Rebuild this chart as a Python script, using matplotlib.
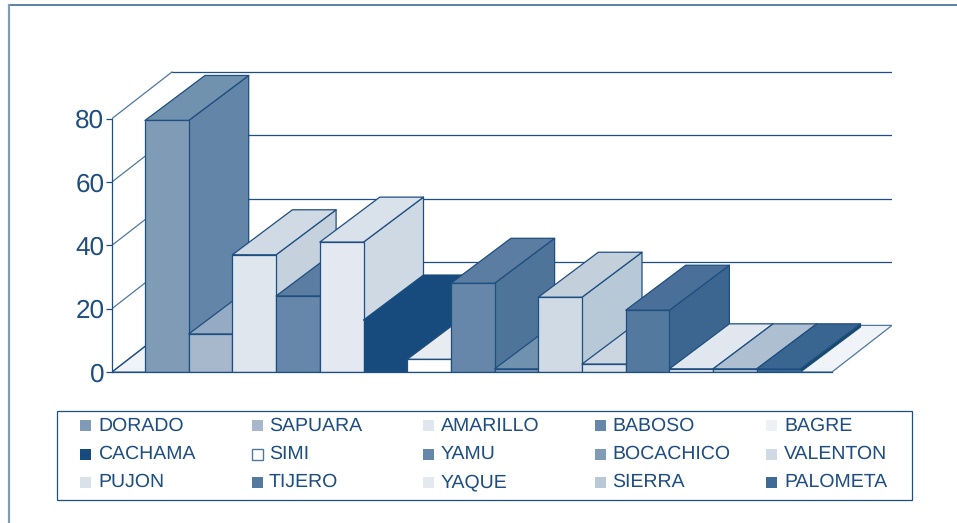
import matplotlib
matplotlib.use("Agg")
import matplotlib.pyplot as plt
from matplotlib.patches import Polygon, Rectangle

plt.rcParams['font.family'] = ['Liberation Sans', 'DejaVu Sans']
plt.rcParams['text.hinting'] = 'no_hinting'

species = ["DORADO", "SAPUARA", "AMARILLO", "BABOSO", "BAGRE",
           "CACHAMA", "SIMI", "YAMU", "BOCACHICO", "VALENTON",
           "PUJON", "TIJERO", "YAQUE", "SIERRA", "PALOMETA"]
values = [79.4, 12, 37, 24, 41, 16.4, 4, 28, 1, 23.6, 2.5, 19.5, 1, 1, 1]
y_ticks = [0, 20, 40, 60, 80]

front_colors = ["#7F9BB6", "#A7B8CD", "#E0E6EE", "#6687A9", "#E4E9F1",
                "#174B7E", "#FFFFFF", "#6687A9", "#7F9BB6", "#D0DAE5",
                "#D9E1EA", "#54799E", "#E8EDF3", "#B8C8D7", "#3F6A95"]
top_colors = ["#7092AF", "#95ABC3", "#D0DAE5", "#5A7DA1", "#D9E1EA",
              "#174B7E", "#E8ECF1", "#5A7DA1", "#7092AF", "#C3D0DC",
              "#CBD6E1", "#4A7099", "#E0E7EF", "#AEBFD1", "#396591"]
side_colors = ["#6285A8", "#8AA2BC", "#C5D1DD", "#4F7499", "#CED9E3",
               "#174B7E", "#DDE3EA", "#4F7499", "#6285A8", "#B7C8D7",
               "#BFCCD9", "#3C668F", "#D5DEE8", "#A3B6CA", "#0F4A5E"]
legend_colors = ["#7F9BB6", "#A7B8CD", "#E0E6EE", "#6687A9", "#EDF1F5",
                 "#174B7E", "#FFFFFF", "#6687A9", "#7F9BB6", "#D0DAE5",
                 "#D9E1EA", "#54799E", "#E3E9F1", "#B8C8D7", "#3F6A95"]

W, H = 957, 523
INK = "#1F4E80"
MID = "#4F78A0"
FLOOR = "#F0F4F8"

fig = plt.figure(figsize=(W / 100, H / 100), dpi=100, facecolor="white")

# Page-level layer in pixel coordinates (frame and legend)
page = fig.add_axes([0, 0, 1, 1], zorder=0)
page.set_xlim(0, W)
page.set_ylim(H, 0)
page.axis("off")
page.plot([8, W], [4.5, 4.5], color=MID, lw=1.3, solid_capstyle="butt")
page.plot([8.5, 8.5], [4, H], color="#7F9BB6", lw=1.6, solid_capstyle="butt")

# Chart axes: x in category units, y in value units
PX_CAT = 43.7
PX_VAL = 3.168
left_px, right_px, base_px, top_px = 112, 892, 372, 60
ax = fig.add_axes([left_px / W, 1 - base_px / H,
                   (right_px - left_px) / W, (base_px - top_px) / H], zorder=1)
ax.patch.set_alpha(0)
ax.set_xlim((left_px - 145) / PX_CAT, (right_px - 145) / PX_CAT)
ax.set_ylim(0, (base_px - top_px) / PX_VAL)

bar_dx, bar_dy = 60 / PX_CAT, 45 / PX_VAL
wall_dx, wall_dy = 60 / PX_CAT, 46.6 / PX_VAL
x0 = (left_px - 145) / PX_CAT
x1 = x0 + (832 - left_px) / PX_CAT

# Floor
ax.add_patch(Polygon([(x0, 0), (x1, 0), (x1 + wall_dx, wall_dy), (x0 + wall_dx, wall_dy)],
                     closed=True, facecolor=FLOOR, edgecolor=MID, lw=0.9, zorder=1))
# Back and side wall grid lines
for t in y_ticks[1:]:
    ax.plot([x0 + wall_dx, x1 + wall_dx], [t + wall_dy, t + wall_dy], color=INK, lw=0.9, zorder=1)
for t in y_ticks:
    ax.plot([x0, x0 + wall_dx], [t, t + wall_dy], color=MID if t else INK, lw=0.9, zorder=1)

# Bars painted left to right
for i, v in enumerate(values):
    a, b = i, i + 1
    z = 2 + i
    edge = front_colors[i] if species[i] == "CACHAMA" else INK
    kw = dict(closed=True, edgecolor=edge, lw=0.9, joinstyle="round", zorder=z)
    ax.add_patch(Polygon([(b, 0), (b + bar_dx, bar_dy), (b + bar_dx, v + bar_dy), (b, v)],
                         facecolor=side_colors[i], **kw))
    ax.add_patch(Polygon([(a, v), (b, v), (b + bar_dx, v + bar_dy), (a + bar_dx, v + bar_dy)],
                         facecolor=top_colors[i], **kw))
    ax.add_patch(Rectangle((a, 0), 1, v, facecolor=front_colors[i],
                           edgecolor=edge, lw=0.9, zorder=z))

# Axis
for s in ("top", "right"):
    ax.spines[s].set_visible(False)
ax.spines["left"].set_bounds(0, 80)
ax.spines["bottom"].set_bounds(x0, x1)
for s in ("left", "bottom"):
    ax.spines[s].set_color(INK)
    ax.spines[s].set_linewidth(0.9)
    ax.spines[s].set_zorder(30)
ax.set_xticks([])
ax.set_yticks(y_ticks)
ax.tick_params(axis="y", length=4, width=0.9, color=INK, labelcolor=INK,
               labelsize=18.8, pad=1.5)

# Legend
page.add_patch(Rectangle((57, 411), 855, 88.5, facecolor="none", edgecolor=INK, lw=0.9))
col_marker = [80, 252, 423, 595, 766]
col_text = [98, 269, 441, 612, 784]
row_marker = [425.5, 454, 482]
row_text = [431, 459, 487]
for i, name in enumerate(species):
    r, c = divmod(i, 5)
    page.add_patch(Rectangle((col_marker[c], row_marker[r] - 5.5), 11, 11,
                             facecolor=legend_colors[i],
                             edgecolor=MID if name == "SIMI" else "none",
                             lw=1.0))
    page.text(col_text[c], row_text[r], name, color=INK, fontsize=14,
              ha="left", va="baseline")

fig.savefig("out.png", dpi=100)
